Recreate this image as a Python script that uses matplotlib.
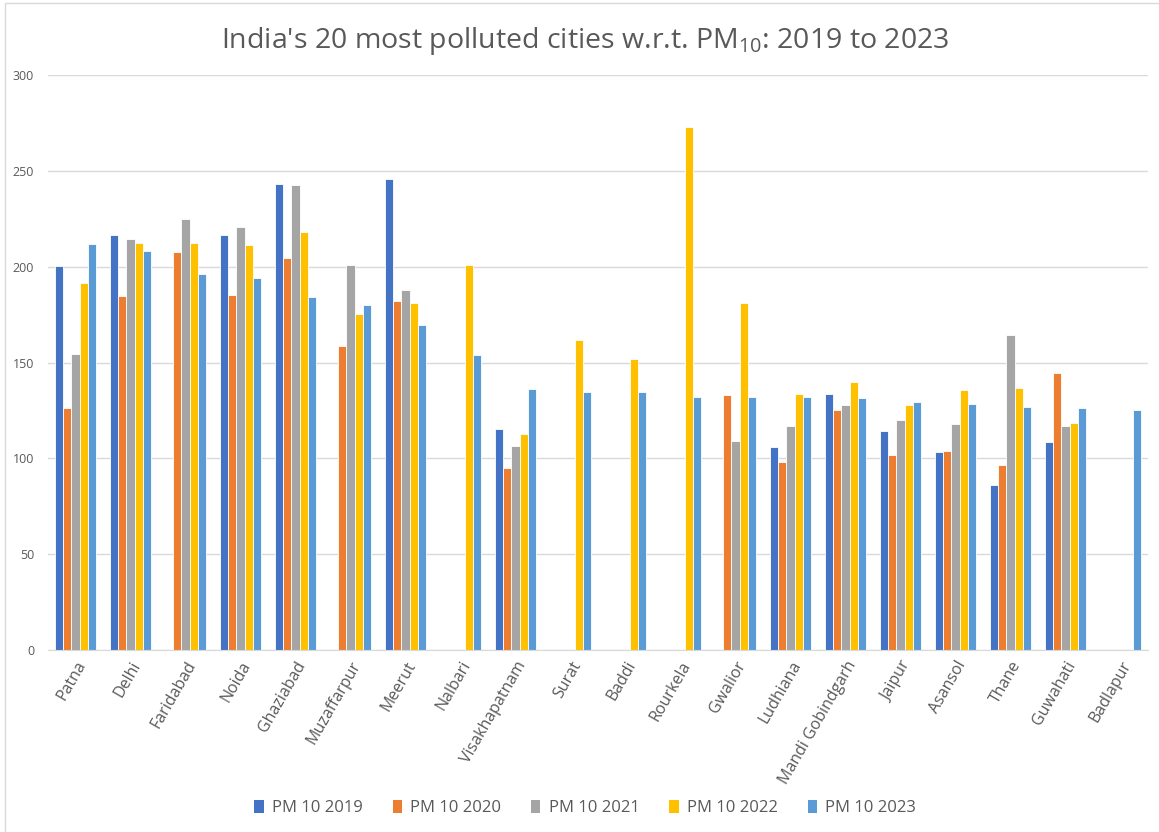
import numpy as np
import matplotlib.pyplot as plt
from matplotlib.patches import Patch, Rectangle

plt.rcParams['font.family'] = ['Open Sans', 'DejaVu Sans']
plt.rcParams['mathtext.fontset'] = 'custom'
plt.rcParams['mathtext.rm'] = 'Open Sans'
plt.rcParams['mathtext.it'] = 'Open Sans'

# Data (NaN = no bar)
cities = ['Patna', 'Delhi', 'Faridabad', 'Noida', 'Ghaziabad', 'Muzaffarpur', 'Meerut',
          'Nalbari', 'Visakhapatnam', 'Surat', 'Baddi', 'Rourkela', 'Gwalior', 'Ludhiana',
          'Mandi Gobindgarh', 'Jaipur', 'Asansol', 'Thane', 'Guwahati', 'Badlapur']
nan = np.nan
pm2019 = [200.4, 216.4, nan, 216.4, 243.2, nan, 245.8, nan, 115.2, nan,
          nan, nan, nan, 106.0, 133.4, 114.4, 103.4, 86.0, 108.6, nan]
pm2020 = [126.2, 184.6, 207.8, 185.4, 204.6, 158.8, 182.0, nan, 95.2, nan,
          nan, nan, 133.0, 98.0, 125.4, 102.0, 104.0, 96.6, 144.4, nan]
pm2021 = [154.6, 214.4, 224.8, 220.6, 242.8, 201.0, 188.0, nan, 106.6, nan,
          nan, nan, 109.2, 116.8, 127.6, 119.8, 118.0, 164.4, 116.8, nan]
pm2022 = [191.4, 212.6, 212.4, 211.2, 218.0, 175.4, 181.0, 201.0, 112.6, 161.6,
          152.0, 272.8, 181.0, 133.6, 139.6, 128.0, 135.6, 136.6, 118.2, nan]
pm2023 = [211.8, 208.2, 196.2, 194.0, 184.2, 180.2, 169.6, 153.8, 136.0, 134.6,
          134.4, 132.0, 132.0, 131.8, 131.4, 129.4, 128.4, 126.6, 126.2, 125.4]

series = [pm2019, pm2020, pm2021, pm2022, pm2023]
labels = ['PM 10 2019', 'PM 10 2020', 'PM 10 2021', 'PM 10 2022', 'PM 10 2023']
colors = ['#4472C4', '#ED7D31', '#A5A5A5', '#FFC000', '#5B9BD5']

text_col = '#595959'

fig = plt.figure(figsize=(11.59, 8.32), dpi=100)
ax = fig.add_axes([48 / 1159, 1 - 650 / 832, 1100 / 1159, 575 / 832])

# chart area border (partly cropped in the reference)
fig.patches.append(Rectangle((5 / 1159, -0.1), 1.2, 1 - 3 / 832 + 0.1,
                             transform=fig.transFigure, fill=False,
                             edgecolor='#D9D9D9', linewidth=1))

x = np.arange(len(cities))
step = 0.151
for i, (vals, lab, col) in enumerate(zip(series, labels, colors)):
    ax.bar(x + (i - 2) * step, vals, width=step, color=col, label=lab,
           edgecolor='white', linewidth=0.6)

ax.set_xlim(-0.5, len(cities) - 0.5)
ax.set_ylim(0, 300)
ax.set_yticks(range(0, 301, 50))
ax.yaxis.grid(True, color='#D9D9D9', linewidth=1)
ax.set_axisbelow(True)
for s in ['top', 'right', 'left']:
    ax.spines[s].set_visible(False)
ax.spines['bottom'].set_color('#D9D9D9')
ax.tick_params(axis='y', length=0, pad=10, labelsize=9, labelcolor=text_col)
ax.tick_params(axis='x', length=0, pad=6, labelsize=11.5, labelcolor=text_col)
ax.set_xticks(x)
ax.set_xticklabels(cities, rotation=60, ha='right', rotation_mode='anchor')

fig.text(0.505, 1 - 41 / 832, r"India's 20 most polluted cities w.r.t. PM$_{10}$: 2019 to 2023",
         ha='center', va='center', fontsize=20.5, color=text_col)

handles = [Patch(facecolor=c) for c in colors]
fig.legend(handles, labels, loc='center', bbox_to_anchor=(0.505, 1 - 808 / 832),
           ncol=5, frameon=False, fontsize=12, labelcolor=text_col,
           handlelength=0.55, handleheight=0.8, handletextpad=0.5, columnspacing=1.8)

fig.savefig('out.png', dpi=100)
